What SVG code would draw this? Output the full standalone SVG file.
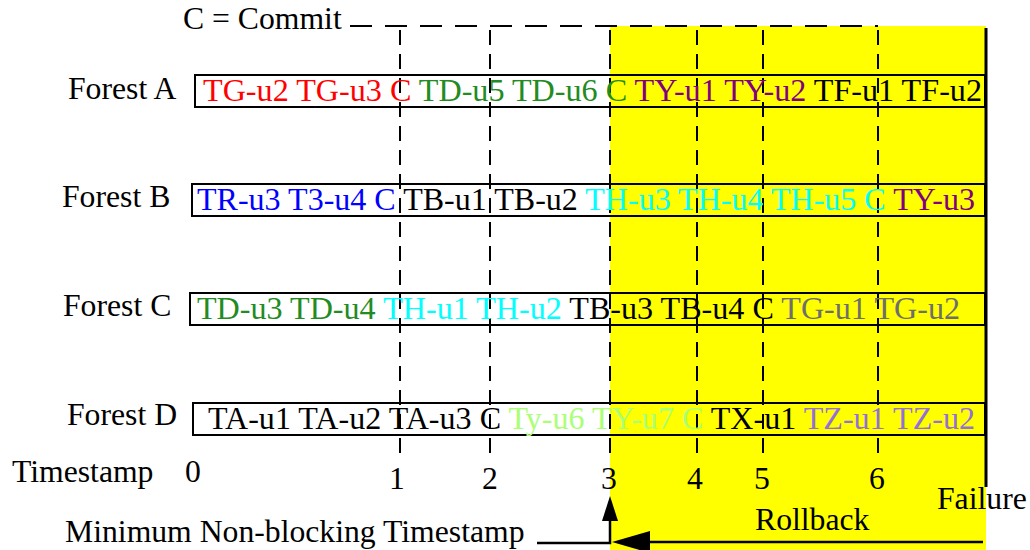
<svg xmlns="http://www.w3.org/2000/svg" width="1030" height="550" viewBox="0 0 1030 550">
<style>
text{font-family:"Liberation Serif","Times New Roman",serif;font-size:31.7px;fill:#000}
.box{fill:none;stroke:#000;stroke-width:2}
.dash{stroke:#000;stroke-width:2;stroke-dasharray:15 9;fill:none}
.hdash{stroke:#000;stroke-width:2;stroke-dasharray:22 13;fill:none}
.solid{stroke:#000;stroke-width:2.5;fill:none}
.r{fill:#ff0000}.g{fill:#228b22}.p{fill:#800080}.b{fill:#0000ff}.c{fill:#00ffff}.gy{fill:#6e6e6e}.lg{fill:#aaff77}.mp{fill:#9370db}
</style>
<rect x="610" y="26" width="376" height="524" fill="#ffff00"/>
<g id="legend"><text x="183" y="29">C = Commit</text></g>
<g id="connectors">
<path class="hdash" d="M350,26 H878"/>
<path class="dash" d="M400,30 V455"/>
<path class="dash" d="M490,30 V455"/>
<path class="dash" d="M610,30 V455"/>
<path class="dash" d="M697,30 V455"/>
<path class="dash" d="M763,30 V455"/>
<path class="dash" d="M878,30 V455"/>
<path d="M986,28 V487" stroke="#000" stroke-width="3"/>
<path class="solid" d="M537,543 H610 V520"/>
<path d="M602,521 L610,496 L618,521 Z" fill="#000"/>
<path class="solid" d="M983,542 H645"/>
<path d="M650,531 L612,542 L650,553 Z" fill="#000"/>
</g>
<g id="forestA">
<text x="68" y="99">Forest A</text>
<rect class="box" x="195" y="75" width="790" height="32"/>
<text x="203" y="101" textLength="779" lengthAdjust="spacingAndGlyphs"><tspan class="r">TG-u2 TG-u3 C </tspan><tspan class="g">TD-u5 TD-u6 C </tspan><tspan class="p">TY-u1 TY-u2 </tspan><tspan>TF-u1 TF-u2</tspan></text>
</g>
<g id="forestB">
<text x="62" y="207">Forest B</text>
<rect class="box" x="192" y="184" width="793" height="32"/>
<text x="197" y="210" textLength="778" lengthAdjust="spacingAndGlyphs"><tspan class="b">TR-u3 T3-u4 C </tspan><tspan>TB-u1 TB-u2 </tspan><tspan class="c">TH-u3 TH-u4 TH-u5 C </tspan><tspan class="p">TY-u3</tspan></text>
</g>
<g id="forestC">
<text x="63" y="316">Forest C</text>
<rect class="box" x="190" y="293" width="795" height="32"/>
<text x="197" y="319" textLength="763" lengthAdjust="spacingAndGlyphs"><tspan class="g">TD-u3 TD-u4 </tspan><tspan class="c">TH-u1 TH-u2 </tspan><tspan>TB-u3 TB-u4 C </tspan><tspan class="gy">TG-u1 TG-u2</tspan></text>
</g>
<g id="forestD">
<text x="67" y="425">Forest D</text>
<rect class="box" x="193" y="403" width="792" height="32"/>
<text x="208" y="429" textLength="767" lengthAdjust="spacingAndGlyphs"><tspan>TA-u1 TA-u2 TA-u3 C </tspan><tspan class="lg">Ty-u6 TY-u7 C </tspan><tspan>TX-u1 </tspan><tspan class="mp">TZ-u1 TZ-u2</tspan></text>
</g>
<g id="axis">
<text x="12" y="482">Timestamp</text>
<text x="193" y="482" text-anchor="middle">0</text>
<text x="397" y="489" text-anchor="middle">1</text>
<text x="490" y="489" text-anchor="middle">2</text>
<text x="609" y="489" text-anchor="middle">3</text>
<text x="695" y="489" text-anchor="middle">4</text>
<text x="762" y="489" text-anchor="middle">5</text>
<text x="877" y="489" text-anchor="middle">6</text>
<text x="937" y="509">Failure</text>
<text x="755" y="530">Rollback</text>
<text x="65" y="542">Minimum Non-blocking Timestamp</text>
</g>
</svg>
